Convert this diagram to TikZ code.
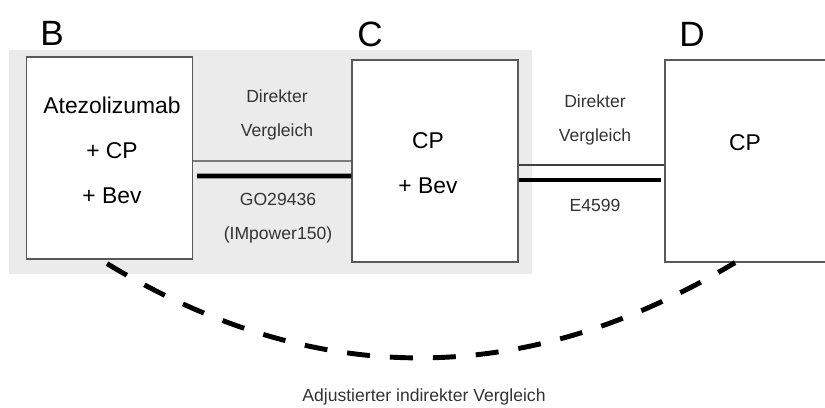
\documentclass[tikz,border=0pt]{standalone}
\usepackage{fontspec}
\setmainfont{Liberation Sans}
\begin{document}
\begin{tikzpicture}[x=0.02cm, y=-0.02cm,
    box/.style={draw=black!65, fill=white, line width=0.7pt, minimum width=3.32cm, minimum height=4.04cm, inner sep=0pt},
    boxtext/.style={align=center, inner sep=0pt, font=\fontsize{13}{25.6}\selectfont},
    armlabel/.style={inner sep=0pt, font=\fontsize{20}{24}\selectfont},
    linktext/.style={align=center, inner sep=0pt, text=black!80, font=\fontsize{10}{19.4}\selectfont},
    thinlink/.style={draw=black!75, line width=0.6pt},
    thicklink/.style={draw=black, line width=2.8pt},
    adjline/.style={draw=black, line width=2.8pt, dash pattern=on 0.46cm off 0.4cm}]
    \useasboundingbox (0,0) rectangle (825,407);
    % shaded part of the network
    \fill[black!8] (9,50) rectangle (532,274);
    % arms
    \node[box] (B) at (109.5,158) {};
    \node[box] (C) at (435,161) {};
    \node[box] (D) at (748,161) {};
    \node[boxtext] (Btext) at (112,150) {Atezolizumab\\+ CP\\+ Bev};
    \node[boxtext] (Ctext) at (428,163) {CP\\+ Bev};
    \node[boxtext] (Dtext) at (745,143) {CP};
    \node[armlabel] (Blabel) at (52,33) {B};
    \node[armlabel] (Clabel) at (370,34) {C};
    \node[armlabel] (Dlabel) at (692,34) {D};
    % direct comparisons
    \draw[thinlink] ([yshift=-0.06cm]B.east) -- ([yshift=0cm]C.west);
    \draw[thicklink] ([xshift=0.08cm,yshift=-0.36cm]B.east) -- ([yshift=-0.3cm]C.west);
    \draw[thinlink] ([yshift=-0.08cm]C.east) -- ([yshift=-0.08cm]D.west);
    \draw[thicklink] ([yshift=-0.38cm]C.east) -- ([xshift=-0.06cm,yshift=-0.38cm]D.west);
    \node[linktext] (dirBC) at (277,115) {Direkter\\Vergleich};
    \node[linktext] (studyBC) at (278,218) {GO29436\\(IMpower150)};
    \node[linktext] (dirCD) at (595,120) {Direkter\\Vergleich};
    \node[linktext] (studyCD) at (595,205) {E4599};
    % indirect comparison
    \draw[adjline] ([xshift=-0.05cm,yshift=-0.08cm]B.south) .. controls (316,390) and (525,389) .. ([xshift=-0.26cm]D.south);
    \node[linktext] (adj) at (424,397) {Adjustierter indirekter Vergleich};
\end{tikzpicture}
\end{document}
